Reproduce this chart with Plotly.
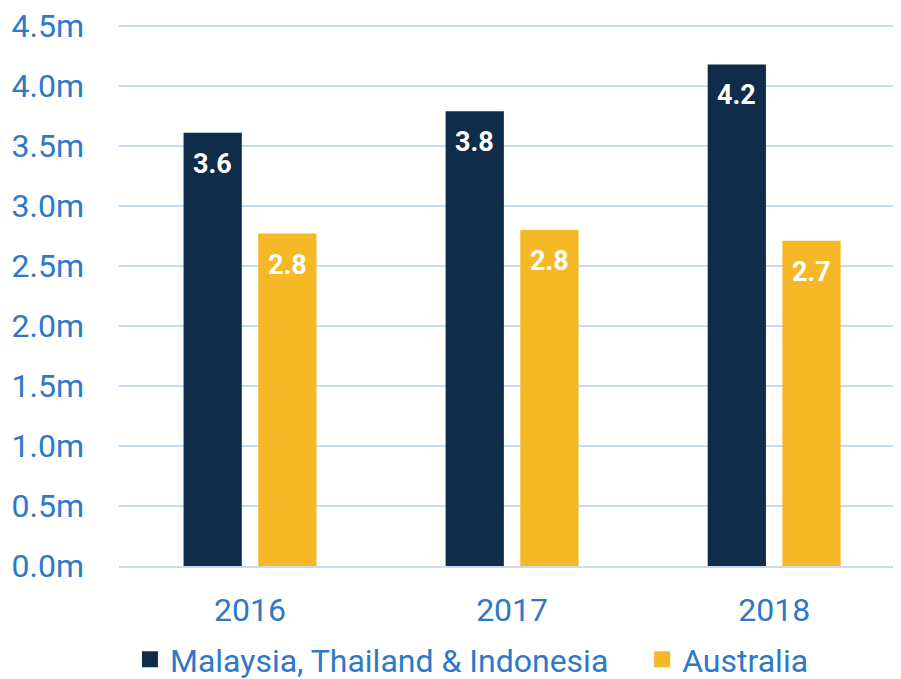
import plotly.graph_objects as go

years = ["2016", "2017", "2018"]
mti = [3.61, 3.79, 4.18]        # Malaysia, Thailand & Indonesia (m)
aus = [2.77, 2.80, 2.71]        # Australia (m)
series_names = ["Malaysia, Thailand & Indonesia", "Australia"]

NAVY = "#0F2D4A"
GOLD = "#F5B827"
BLUE = "#2E78C8"
GRID = "#C6DCF3"
FONT = "Roboto, Liberation Sans, Arial"

fig = go.Figure()

legends = ["legend", "legend2"]
for name, vals, col, lg in [(series_names[0], mti, NAVY, legends[0]),
                            (series_names[1], aus, GOLD, legends[1])]:
    fig.add_trace(go.Bar(x=years, y=vals, name=name, marker_color=col,
                         marker_line_width=0, showlegend=False))
    # legend entry with a bigger square swatch
    fig.add_trace(go.Scatter(x=[None], y=[None], mode="markers", name=name, legend=lg,
                             marker=dict(symbol="square", size=20, color=col)))

# value labels inside top of bars (x given as category index)
for vals, shift in [(mti, -37.5), (aus, 37.5)]:
    for i, v in enumerate(vals):
        fig.add_annotation(x=i, y=v, xref="x", yref="y",
                           text="<b>{:.1f}</b>".format(v), showarrow=False,
                           xshift=shift, yshift=-31, yanchor="middle",
                           font=dict(family=FONT, size=27, color="white"))

# page body adds an 8px margin, so the figure is drawn 8px smaller
fig.update_layout(
    width=893, height=671,
    margin=dict(l=111, r=0, t=15, b=113, autoexpand=False),
    plot_bgcolor="white", paper_bgcolor="white",
    barmode="group", bargap=0.43, bargroupgap=0.22,
    font=dict(family=FONT, size=32, color=BLUE),
    legend=dict(orientation="h", x=0.014, xanchor="left", y=-0.1215, yanchor="top",
                font=dict(size=32, color=BLUE), itemsizing="trace"),
    legend2=dict(orientation="h", x=0.669, xanchor="left", y=-0.1215, yanchor="top",
                 font=dict(size=32, color=BLUE), itemsizing="trace"),
)
fig.update_xaxes(type="category", range=[-0.5, 2.484], showgrid=False, ticks="",
                 ticklabelstandoff=15, automargin=False,
                 tickfont=dict(size=32, color=BLUE), showline=True, linecolor=GRID, linewidth=2)
fig.update_yaxes(range=[0, 4.525], tickmode="linear", tick0=0, dtick=0.5,
                 tickformat=".1f", ticksuffix="m", ticklabeloverflow="allow",
                 showgrid=True, gridcolor=GRID, gridwidth=2, zeroline=False, automargin=False,
                 ticklabelstandoff=34, tickfont=dict(size=32, color=BLUE))

fig.write_html("out.html")
